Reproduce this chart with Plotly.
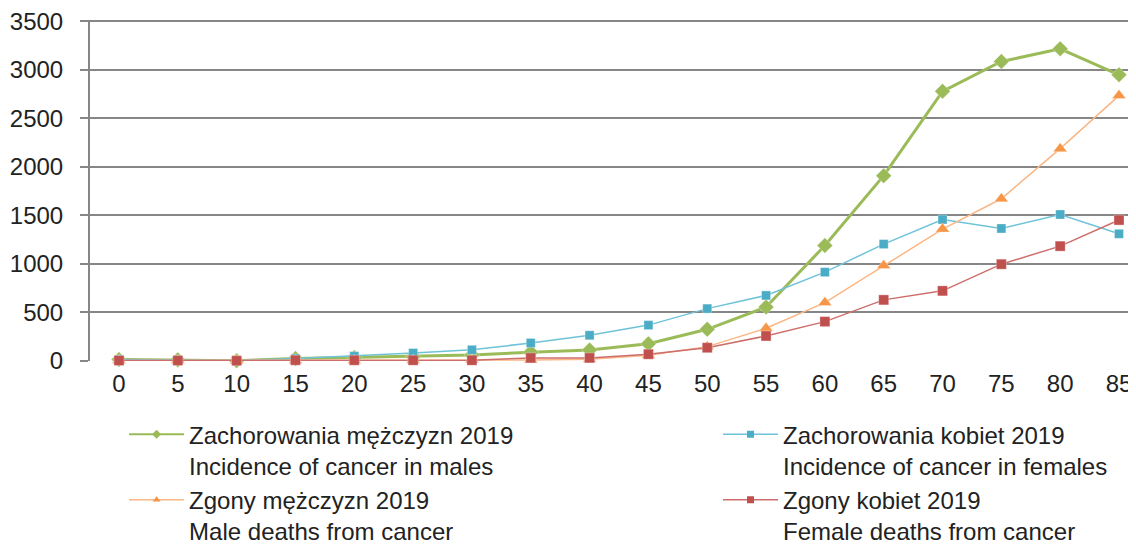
import plotly.graph_objects as go

# age groups on the x axis
ages = [0, 5, 10, 15, 20, 25, 30, 35, 40, 45, 50, 55, 60, 65, 70, 75, 80, 85]

# values
incidence_males = [15, 12, 3, 25, 35, 45, 62, 90, 114, 177, 327, 556, 1190, 1910, 2780, 3087, 3218, 2950]
incidence_females = [15, 10, 5, 25, 50, 82, 115, 186, 265, 370, 540, 676, 916, 1205, 1459, 1366, 1510, 1311]
deaths_males = [5, 5, 3, 5, 5, 8, 10, 10, 18, 60, 148, 337, 602, 984, 1360, 1672, 2189, 2736]
deaths_females = [5, 5, 3, 8, 8, 8, 8, 32, 32, 70, 137, 258, 406, 630, 723, 998, 1184, 1453]

y_ticks = [0, 500, 1000, 1500, 2000, 2500, 3000, 3500]

FONT = "Liberation Sans"
GRID = "#868686"
TEXT = "#222222"

# name, values, marker colour, line colour, line width, symbol, size, legend
series = [
    ("Zachorowania mężczyzn 2019<br>Incidence of cancer in males", incidence_males,
     "#9BBB59", "#9BBB59", 3, "diamond", 12, "legend"),
    ("Zachorowania kobiet 2019<br>Incidence of cancer in females", incidence_females,
     "#4BACC6", "#6EC3D8", 1.5, "square", 9, "legend2"),
    ("Zgony mężczyzn 2019<br>Male deaths from cancer", deaths_males,
     "#F79646", "#FAB684", 1.5, "triangle-up", 12, "legend"),
    ("Zgony kobiet 2019<br>Female deaths from cancer", deaths_females,
     "#C0504D", "#CD6E6B", 1.5, "square", 10, "legend2"),
]

fig = go.Figure()
for name, vals, mcolor, lcolor, lw, symbol, size, leg in series:
    fig.add_trace(go.Scatter(
        x=ages, y=vals, name=name,
        mode="lines+markers",
        line=dict(color=lcolor, width=lw),
        marker=dict(color=mcolor, symbol=symbol, size=size,
                    line=dict(color="rgba(255,255,255,0.6)", width=0.5)),
        cliponaxis=False,
        showlegend=False,
    ))

# legend entries with the smaller markers used in the original legend
for name, vals, mcolor, lcolor, lw, symbol, size, leg in series:
    fig.add_trace(go.Scatter(
        x=[None], y=[None], name=name,
        mode="lines+markers",
        line=dict(color=lcolor, width=min(lw, 2)),
        marker=dict(color=mcolor, symbol=symbol, size=7),
        legend=leg,
        showlegend=True,
    ))

legend_style = dict(
    orientation="v",
    y=-0.15, yanchor="top",
    xanchor="left",
    itemwidth=55,
    valign="top",
    traceorder="normal",
    bgcolor="rgba(0,0,0,0)",
    font=dict(family=FONT, size=24, color=TEXT),
)

# the page body has an 8px margin, so the figure is 8px smaller than the window
fig.update_layout(
    width=1128, height=536,
    margin=dict(l=82, r=0, t=12, b=183, autoexpand=False),
    paper_bgcolor="white", plot_bgcolor="white",
    font=dict(family=FONT, size=24, color=TEXT),
    legend=dict(x=0.0326, **legend_style),
    legend2=dict(x=0.6004, **legend_style),
)

fig.update_xaxes(
    range=[-2.465, 86.445],
    tickvals=ages, ticktext=[str(a) for a in ages],
    showgrid=False, zeroline=False, showline=False,
    ticks="", ticklabelstandoff=6,
)
# a little headroom above 3500 so its gridline is not dropped at the edge
fig.update_yaxes(
    range=[0, 3515],
    tickvals=y_ticks,
    showgrid=True, gridcolor=GRID, gridwidth=2,
    zeroline=False,
    showline=True, linecolor=GRID, linewidth=2,
    ticks="outside", ticklen=8, tickcolor=GRID, tickwidth=2,
    ticklabelstandoff=12, ticklabeloverflow="allow",
)

fig.write_html("out.html")
